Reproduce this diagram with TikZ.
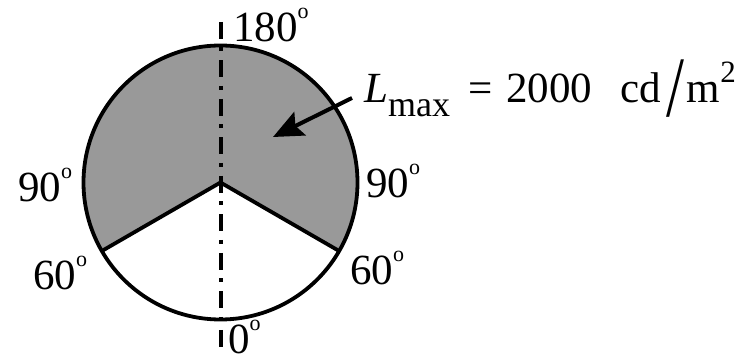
\documentclass[tikz,border=0pt]{standalone}
\usepackage{fontspec}
\setmainfont{Liberation Serif}
\usetikzlibrary{arrows.meta,calc}
\definecolor{sectorgray}{RGB}{153,153,153}
\newcommand\dg{\raisebox{23pt}{\fontsize{22}{22}\selectfont o}}
\begin{document}
\begin{tikzpicture}[x=1pt,y=1pt,
  lbl/.style={anchor=base west,inner sep=0pt,font=\fontsize{43}{46}\selectfont},
  rim/.style={line width=3.8pt},
  axisline/.style={line width=4pt,dash pattern=on 17pt off 8.5pt on 4pt off 9pt}]
\useasboundingbox (0,0) rectangle (752,361);
\coordinate (c) at (220.5,178.5);
\fill[sectorgray] (c) -- ++(-30:137) arc[start angle=-30,end angle=210,radius=137] -- cycle;
\draw[rim] (c) circle[radius=137];
\draw[rim,line join=miter] ($(c)+(210:137)$) -- (c) -- ($(c)+(-30:137)$);
\coordinate (top) at (220.5,339);
\coordinate (bot) at (220.5,14);
\draw[axisline] (top) -- (bot);
\node[lbl] (n180) at (233,319) {180\dg};
\node[lbl] (n90l) at (18,159) {90\dg};
\node[lbl] (n60l) at (33,71) {60\dg};
\node[lbl] (n90r) at (366,163) {90\dg};
\node[lbl] (n60r) at (350,76) {60\dg};
\node[lbl] (n0) at (228,7) {0\dg};
\node[lbl] (lmax) at (364,258) {\textit{L}\raisebox{-14pt}{\fontsize{36}{36}\selectfont max}\hspace{18pt}=\hspace{14pt}2000\hspace{28pt}cd\hspace{6pt}\raisebox{-14pt}{\scalebox{1.5}[2]{/}}\hspace{2pt}m\raisebox{20pt}{\fontsize{31}{31}\selectfont 2}};
\coordinate (atail) at (352,263);
\coordinate (ahead) at (273,224);
\draw[line width=4pt,-{Stealth[length=30pt,width=26pt,inset=5pt]}] (atail) -- (ahead);
\end{tikzpicture}
\end{document}
